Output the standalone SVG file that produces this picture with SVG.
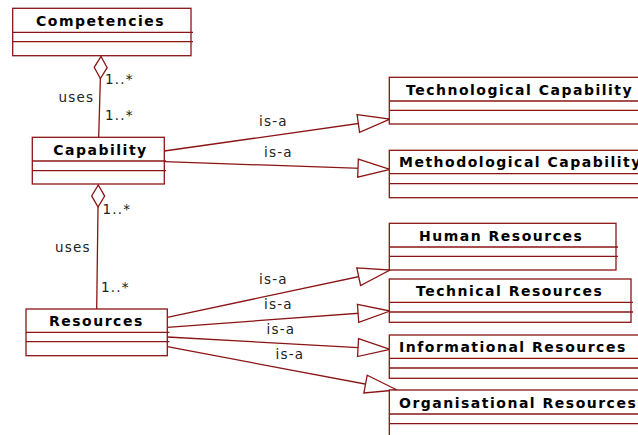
<svg xmlns="http://www.w3.org/2000/svg" width="638" height="435" viewBox="0 0 638 435">
<style>
.box{fill:#fff;stroke:#8b1414;stroke-width:1.3}
.div{stroke:#8b1414;stroke-width:1.3}
.t{font-family:"DejaVu Sans",Verdana,sans-serif;font-weight:bold;font-size:14px;letter-spacing:1.5px;fill:#000}
.l{font-family:"DejaVu Sans",Verdana,sans-serif;font-size:13.5px;letter-spacing:1.2px;fill:#222}
.c{stroke:#8b1414;stroke-width:1.3;fill:none}
</style>
<defs>
<marker id="tri" markerUnits="userSpaceOnUse" markerWidth="40" markerHeight="24" refX="32" refY="9" orient="auto" overflow="visible">
<path d="M0,0 L32,9 L0,18 Z" fill="#fff" stroke="#8b1414" stroke-width="1.3"/>
</marker>
<marker id="dia" markerUnits="userSpaceOnUse" markerWidth="26" markerHeight="16" refX="0" refY="6.5" orient="auto" overflow="visible">
<path d="M0,6.5 L11,0 L22,6.5 L11,13 Z" fill="#fff" stroke="#8b1414" stroke-width="1.3"/>
</marker>
</defs>
<g id="connectors">
<line class="c" x1="101" y1="56.5" x2="98.7" y2="137" marker-start="url(#dia)"/>
<line class="c" x1="98.3" y1="185" x2="96.7" y2="309" marker-start="url(#dia)"/>
<line class="c" x1="164.3" y1="151" x2="390" y2="119" marker-end="url(#tri)"/>
<line class="c" x1="164.3" y1="161.7" x2="390" y2="169.3" marker-end="url(#tri)"/>
<line class="c" x1="167.3" y1="317.3" x2="390" y2="270" marker-end="url(#tri)"/>
<line class="c" x1="167.3" y1="327.3" x2="390" y2="311" marker-end="url(#tri)"/>
<line class="c" x1="167.3" y1="337" x2="390" y2="349.3" marker-end="url(#tri)"/>
<line class="c" x1="167.3" y1="346.7" x2="397" y2="390" marker-end="url(#tri)"/>
<text class="l" x="105" y="84">1..*</text>
<text class="l" x="105" y="119.5">1..*</text>
<text class="l" x="58.5" y="102">uses</text>
<text class="l" x="102.5" y="213.5">1..*</text>
<text class="l" x="101" y="292">1..*</text>
<text class="l" x="55" y="252">uses</text>
<text class="l" x="259" y="126">is-a</text>
<text class="l" x="264" y="157">is-a</text>
<text class="l" x="259" y="284">is-a</text>
<text class="l" x="264" y="308.5">is-a</text>
<text class="l" x="266.5" y="334">is-a</text>
<text class="l" x="275.5" y="358.5">is-a</text>
</g>
<g id="competencies">
<rect class="box" x="12.7" y="8.3" width="178.3" height="47.4"/>
<line class="div" x1="12.7" y1="32.3" x2="193" y2="32.3"/>
<line class="div" x1="12.7" y1="41.7" x2="193" y2="41.7"/>
<text class="t" x="36" y="25.5">Competencies</text>
</g>
<g id="capability">
<rect class="box" x="32.3" y="137.3" width="132" height="46.7"/>
<line class="div" x1="32.3" y1="161" x2="166" y2="161"/>
<line class="div" x1="32.3" y1="170.7" x2="166" y2="170.7"/>
<text class="t" x="53.3" y="154.5">Capability</text>
</g>
<g id="resources">
<rect class="box" x="26" y="309" width="141.3" height="46.7"/>
<line class="div" x1="26" y1="332.3" x2="169.5" y2="332.3"/>
<line class="div" x1="26" y1="341.7" x2="169.5" y2="341.7"/>
<text class="t" x="49" y="325.5">Resources</text>
</g>
<g id="technological">
<rect class="box" x="389.3" y="77.3" width="260" height="46.7"/>
<line class="div" x1="389.3" y1="101" x2="650" y2="101"/>
<line class="div" x1="389.3" y1="110.3" x2="650" y2="110.3"/>
<text class="t" x="406" y="94.5">Technological Capability</text>
</g>
<g id="methodological">
<rect class="box" x="389.3" y="150.3" width="260" height="47.4"/>
<line class="div" x1="389.3" y1="173.7" x2="650" y2="173.7"/>
<line class="div" x1="389.3" y1="183.7" x2="650" y2="183.7"/>
<text class="t" x="399" y="167">Methodological Capability</text>
</g>
<g id="human">
<rect class="box" x="389.3" y="223.3" width="226.7" height="46.7"/>
<line class="div" x1="389.3" y1="247" x2="618" y2="247"/>
<line class="div" x1="389.3" y1="256.3" x2="618" y2="256.3"/>
<text class="t" x="419" y="241">Human Resources</text>
</g>
<g id="technical">
<rect class="box" x="389.3" y="279" width="241.7" height="43.3"/>
<line class="div" x1="389.3" y1="302.3" x2="633" y2="302.3"/>
<line class="div" x1="389.3" y1="312" x2="633" y2="312"/>
<text class="t" x="416" y="296">Technical Resources</text>
</g>
<g id="informational">
<rect class="box" x="389.3" y="335" width="260" height="43.3"/>
<line class="div" x1="389.3" y1="358.3" x2="650" y2="358.3"/>
<line class="div" x1="389.3" y1="368" x2="650" y2="368"/>
<text class="t" x="399" y="352">Informational Resources</text>
</g>
<g id="organisational">
<rect class="box" x="389.3" y="390" width="260" height="60"/>
<line class="div" x1="389.3" y1="414" x2="650" y2="414"/>
<line class="div" x1="389.3" y1="423.7" x2="650" y2="423.7"/>
<text class="t" x="399" y="408">Organisational Resources</text>
</g>
</svg>
